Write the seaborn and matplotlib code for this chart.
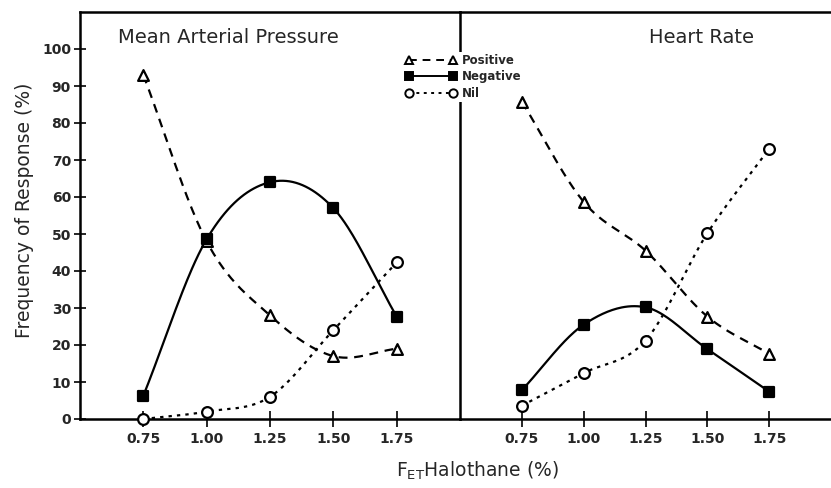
import matplotlib
matplotlib.use('Agg')
import matplotlib.pyplot as plt
from matplotlib.lines import Line2D
import seaborn as sns
import numpy as np
import pandas as pd

# halothane concentrations (%)
halothane = [0.75, 1.00, 1.25, 1.50, 1.75]

# mean arterial pressure, frequency of response (%)
map_positive = [93, 48, 28, 17, 19]
map_negative = [6.3, 48.6, 64, 57, 27.7]
map_nil = [0, 2, 6, 24, 42.3]

# heart rate, frequency of response (%)
hr_positive = [85.8, 58.7, 45.5, 27.7, 17.6]
hr_negative = [7.8, 25.5, 30.2, 18.9, 7.4]
hr_nil = [3.6, 12.4, 21.2, 50.2, 73]

series_names = ['Positive', 'Negative', 'Nil']
y_ticks = list(range(0, 101, 10))
x_ticks = halothane
x_ticklabels = ['0.75', '1.00', '1.25', '1.50', '1.75']

sns.set_style('ticks')
plt.rcParams['font.family'] = ['DejaVu Sans']


def smooth(x, y, n=40):
    """catmull-rom curve through the points, only used to draw the line"""
    x = np.asarray(x, float)
    y = np.asarray(y, float)
    m = len(x)
    slopes = np.zeros(m)
    slopes[0] = (y[1] - y[0]) / (x[1] - x[0])
    slopes[-1] = (y[-1] - y[-2]) / (x[-1] - x[-2])
    for i in range(1, m - 1):
        slopes[i] = (y[i + 1] - y[i - 1]) / (x[i + 1] - x[i - 1])
    xs, ys = [], []
    for i in range(m - 1):
        h = x[i + 1] - x[i]
        t = np.linspace(0, 1, n)
        h00 = 2 * t ** 3 - 3 * t ** 2 + 1
        h10 = t ** 3 - 2 * t ** 2 + t
        h01 = -2 * t ** 3 + 3 * t ** 2
        h11 = t ** 3 - t ** 2
        xs.append(x[i] + t * h)
        ys.append(h00 * y[i] + h10 * h * slopes[i] + h01 * y[i + 1] + h11 * h * slopes[i + 1])
    return np.concatenate(xs), np.concatenate(ys)


styles = {
    'Positive': dict(marker='^', fill='white', dashes=(4, 3)),
    'Negative': dict(marker='s', fill='black', dashes=None),
    'Nil': dict(marker='o', fill='white', dashes=(1.5, 2.3)),
}

fig = plt.figure(figsize=(8.31, 4.88), dpi=100)
ax1 = fig.add_axes([80 / 831, 69 / 488, 380 / 831, 407 / 488])
ax2 = fig.add_axes([460 / 831, 69 / 488, 371 / 831, 407 / 488])
ax2.patch.set_visible(False)

panels = [
    (ax1, [map_positive, map_negative, map_nil], 'Mean Arterial Pressure', 0.10),
    (ax2, [hr_positive, hr_negative, hr_nil], 'Heart Rate', 0.51),
]

for ax, data, title, tx in panels:
    for name, vals in zip(series_names, data):
        st = styles[name]
        xs, ys = smooth(halothane, vals)
        sns.lineplot(x=xs, y=ys, ax=ax, color='black', lw=1.6,
                     estimator=None, sort=False)
        ln = ax.lines[-1]
        if st['dashes'] is not None:
            ln.set_dashes(st['dashes'])
        df = pd.DataFrame({'x': halothane, 'y': vals})
        sns.scatterplot(data=df, x='x', y='y', ax=ax, marker=st['marker'], s=60,
                        color=st['fill'], edgecolor='black', linewidth=1.6,
                        zorder=5, clip_on=False)
    ax.set_xlim(0.5, 2.0)
    ax.set_ylim(0, 110)
    ax.set_xticks(x_ticks)
    ax.set_xticklabels(x_ticklabels, fontweight='bold', fontsize=10)
    ax.tick_params(axis='x', direction='inout', length=11, width=1.4, pad=4)
    ax.set_xlabel('')
    ax.set_ylabel('')
    ax.text(tx, 0.925, title, transform=ax.transAxes, fontsize=14, ha='left')
    for sp in ax.spines.values():
        sp.set_linewidth(1.8)
        sp.set_color('black')

ax1.set_yticks(y_ticks)
ax1.set_yticklabels([str(v) for v in y_ticks], fontweight='bold', fontsize=10)
ax1.tick_params(axis='y', direction='inout', length=9, width=1.4, pad=2)
ax2.set_yticks([])
ax2.spines['left'].set_visible(False)
ax2.spines['right'].set_visible(False)

fig.text(0.03, 0.57, 'Frequency of Response (%)', rotation=90, ha='center',
         va='center', fontsize=13.5)
fig.text(0.575, 0.035, r'F$_{\mathregular{ET}}$Halothane (%)', ha='center',
         va='center', fontsize=13.5)

handles = []
for name in series_names:
    st = styles[name]
    h = Line2D([0], [0], color='black', lw=1.4, marker=st['marker'],
               markerfacecolor=st['fill'], markeredgecolor='black',
               markersize=6, markeredgewidth=1.4,
               linestyle='-' if st['dashes'] is None else '--')
    if st['dashes'] is not None:
        h.set_dashes(st['dashes'])
    handles.append(h)
# legend sits on the left panel so it hides the divider but stays under the right panel marks
leg = ax1.legend(handles, series_names, loc='upper left',
                 bbox_to_anchor=(404 / 831, 1 - 52 / 488),
                 bbox_transform=fig.transFigure, numpoints=2,
                 handlelength=4.3, handletextpad=0.45, labelspacing=0.3,
                 frameon=True, fancybox=False, framealpha=1,
                 prop={'weight': 'bold', 'size': 8.5},
                 borderaxespad=0, borderpad=0.15)
leg.get_frame().set_facecolor('white')
leg.get_frame().set_edgecolor('none')
leg.set_zorder(4)

fig.savefig('out.png', dpi=100)
